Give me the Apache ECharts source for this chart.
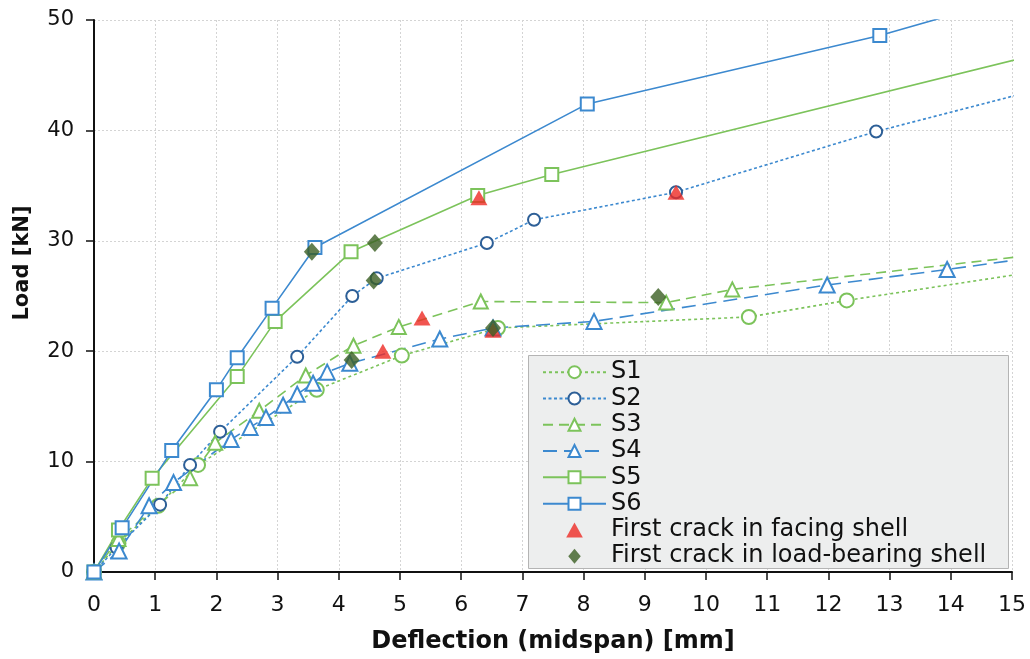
<!DOCTYPE html>
<html>
<head>
<meta charset="utf-8">
<script src="https://cdn.jsdelivr.net/npm/echarts@6/dist/echarts.min.js"></script>
<style>
  html, body { margin: 0; padding: 0; background: #fff; }
  #chart { width: 1030px; height: 659px; }
</style>
</head>
<body>
<div id="chart"></div>
<script>
// [deflection mm, load kN]
const s1Data = [[0, 0], [0.4, 2.6], [1.05, 6.0], [1.7, 9.7], [3.64, 16.5], [5.03, 19.6], [6.6, 22.1], [10.7, 23.1], [12.3, 24.6], [15.5, 27.3]]
const s2Data = [[0, 0], [0.37, 2.2], [1.08, 6.1], [1.57, 9.7], [2.06, 12.7], [3.32, 19.5], [4.22, 25.0], [4.62, 26.6], [6.42, 29.8], [7.19, 31.9], [9.51, 34.4], [12.78, 39.9], [15.5, 43.8]]
const s3Data = [[0, 0], [0.4, 3.0], [1.57, 8.5], [1.98, 11.7], [2.7, 14.6], [3.46, 17.8], [4.24, 20.5], [4.98, 22.2], [6.32, 24.5], [9.35, 24.4], [10.43, 25.6], [15.5, 28.8]]
const s4Data = [[0, 0], [0.41, 1.9], [0.9, 6.0], [1.3, 8.1], [2.24, 12.0], [2.55, 13.1], [2.81, 14.0], [3.09, 15.1], [3.32, 16.1], [3.58, 17.1], [3.81, 18.1], [4.18, 18.9], [5.65, 21.1], [6.52, 22.1], [8.17, 22.7], [11.98, 26.0], [13.94, 27.4], [15.5, 28.6]]
const s5Data = [[0, 0], [0.4, 3.8], [0.95, 8.5], [2.34, 17.7], [2.96, 22.7], [4.2, 29.0], [6.27, 34.1], [7.48, 36.0], [15.5, 47.0]]
const s6Data = [[0, 0], [0.46, 4.0], [1.27, 11.0], [2.0, 16.5], [2.34, 19.4], [2.91, 23.9], [3.61, 29.4], [8.06, 42.4], [12.84, 48.6], [15.5, 52.8]]
const facingCrack = [[4.72, 20.0], [5.36, 23.0], [6.52, 21.9], [6.29, 33.9], [9.51, 34.4]]
const bearingCrack = [[3.56, 29.0], [4.59, 29.8], [4.57, 26.4], [4.21, 19.2], [6.52, 22.1], [9.22, 24.9]]
const legendNames = ['S1', 'S2', 'S3', 'S4', 'S5', 'S6', 'First crack in facing shell', 'First crack in load-bearing shell']

const green = '#7cc35b'
const blue = '#3c89cf'
const darkBlue = '#2d5f97'
const triPath = 'path://M5,0L10,9L0,9Z'
const diaPath = 'path://M5,0L10,6L5,12L0,6Z'

function lineSeries(name, data, color, markColor, dash, symbol, size) {
  return {
    name: name,
    type: 'line',
    data: data,
    symbol: symbol,
    symbolSize: size,
    clip: true,
    z: 3,
    lineStyle: { color: color, width: 1.6, type: dash },
    itemStyle: { color: markColor, borderColor: markColor, borderWidth: 1.8 }
  }
}

const chart = echarts.init(document.getElementById('chart'))

const option = {
  animation: false,
  backgroundColor: '#fff',
  grid: { left: 94, right: 18, top: 20, bottom: 87 },
  graphic: [{
    type: 'rect',
    z: 50,
    shape: { x: 528.5, y: 355.5, width: 480, height: 213 },
    style: { fill: '#edeeee', stroke: '#b4b4b4', lineWidth: 1 }
  }],
  legend: {
    orient: 'vertical',
    left: 528,
    top: 356,
    z: 60,
    padding: [3, 10, 3, 14],
    itemWidth: 63,
    itemHeight: 15,
    itemGap: 0,
    symbolKeepAspect: true,
    textStyle: { fontFamily: 'DejaVu Sans', fontSize: 24, lineHeight: 26.3, color: '#111' },
    data: legendNames.map(function (n, i) {
      if (i === 6) return { name: n, icon: triPath }
      if (i === 7) return { name: n, icon: diaPath }
      return { name: n }
    })
  },
  xAxis: {
    type: 'value',
    min: 0,
    max: 15,
    interval: 1,
    name: 'Deflection (midspan) [mm]',
    nameLocation: 'middle',
    nameGap: 58,
    nameTextStyle: { fontFamily: 'DejaVu Sans', fontWeight: 'bold', fontSize: 24, color: '#111' },
    axisLine: { lineStyle: { color: '#111', width: 2 } },
    axisTick: { show: true, length: 8, lineStyle: { color: '#111', width: 1.5 } },
    axisLabel: { fontFamily: 'DejaVu Sans', fontSize: 22, color: '#111', margin: 22 },
    splitLine: { show: true, lineStyle: { color: '#d4d4d4', type: [2, 2], width: 1 } }
  },
  yAxis: {
    type: 'value',
    min: 0,
    max: 50,
    interval: 10,
    name: 'Load [kN]',
    nameLocation: 'middle',
    nameGap: 61,
    nameTextStyle: { fontFamily: 'DejaVu Sans', fontWeight: 'bold', fontSize: 21, color: '#111', padding: [0, 0, 0, 66] },
    axisLine: { show: true, lineStyle: { color: '#111', width: 2 } },
    axisTick: { show: true, length: 8, lineStyle: { color: '#111', width: 1.5 } },
    axisLabel: { fontFamily: 'DejaVu Sans', fontSize: 21, color: '#111', margin: 20 },
    splitLine: { show: true, lineStyle: { color: '#d4d4d4', type: [2, 2], width: 1 } }
  },
  series: [
    lineSeries('S1', s1Data, green, green, [3, 3], 'emptyCircle', 14),
    lineSeries('S2', s2Data, blue, darkBlue, [3, 2.5], 'emptyCircle', 12),
    lineSeries('S3', s3Data, green, green, [10, 6], 'emptyTriangle', 14),
    lineSeries('S4', s4Data, blue, blue, [14, 7], 'emptyTriangle', 15),
    lineSeries('S5', s5Data, green, green, 'solid', 'emptyRect', 13),
    lineSeries('S6', s6Data, blue, blue, 'solid', 'emptyRect', 13),
    {
      name: 'First crack in facing shell',
      type: 'scatter',
      data: facingCrack,
      symbol: 'triangle',
      symbolSize: [17, 15],
      z: 4,
      itemStyle: { color: '#ee2a24' }
    },
    {
      name: 'First crack in load-bearing shell',
      type: 'scatter',
      data: bearingCrack,
      symbol: 'diamond',
      symbolSize: [16, 18],
      z: 5,
      itemStyle: { color: '#3b5f23' }
    }
  ]
}

chart.setOption(option)
</script>
</body>
</html>
